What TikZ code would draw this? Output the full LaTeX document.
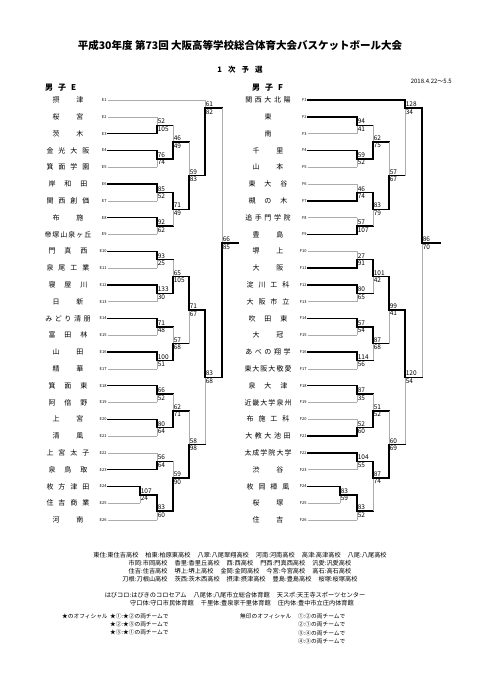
\documentclass[tikz,border=0pt]{standalone}
\usepackage{fontspec}
\setmainfont{Noto Sans CJK JP}
\usetikzlibrary{positioning}

% spread a school name evenly over a fixed width
\newcount\chcnt
\newlength\cellw
\def\countch#1{\ifx#1\relax\else\advance\chcnt by 1 \expandafter\countch\fi}
\def\spreadch#1{\ifx#1\relax\else\makebox[\cellw]{#1}\expandafter\spreadch\fi}
\newcommand\spreadname[1]{\chcnt=0 \expandafter\countch#1\relax
  \setlength\cellw{\dimexpr 48pt/\chcnt\relax}\expandafter\spreadch#1\relax}

% one game: x, next x, top y, bottom y, out y, top score, bottom score, top style, bottom style
\newcount\boutno
\newcommand\bout[9]{%
  \global\advance\boutno by 1
  \draw[#8] (#1,#3) -- (#1,#5);
  \draw[#9] (#1,#5) -- (#1,#4);
  \draw[win] (#1,#5) -- (#2,#5);
  \node[score,anchor=south west,yshift=0.5pt] (m\the\boutno a) at (#1,#5) {#6};
  \node[score,anchor=north west,yshift=-0.5pt] (m\the\boutno b) at (#1,#5) {#7};
}

\begin{document}
\begin{tikzpicture}[x=1pt,y=-1pt,
  team/.style={inner sep=0pt,font=\fontsize{7}{8}\selectfont},
  seed/.style={inner sep=0.3pt,anchor=east,font=\fontsize{4}{4}\selectfont},
  score/.style={inner sep=0.6pt,font=\fontsize{6.5}{6.7}\selectfont},
  head/.style={inner sep=0pt,font=\bfseries\fontsize{8}{9}\selectfont},
  note/.style={inner sep=0pt,font=\fontsize{6.2}{7}\selectfont},
  offi/.style={inner sep=0pt,anchor=west,font=\fontsize{5.7}{6.5}\selectfont},
  win/.style={line width=1.4pt,line cap=rect,black},
  lose/.style={line width=0.6pt,gray!65}
]
\fill[white] (0,0) rectangle (482,680);
\useasboundingbox (0,0) rectangle (482,680);

\node[font=\bfseries\fontsize{10.5}{12}\selectfont] (title) at (240,45) {平成30年度 第73回 大阪高等学校総合体育大会バスケットボール大会};
\node[head,font=\bfseries\fontsize{7.5}{8}\selectfont] (round) at (240,70) {1\hspace{6pt}次\hspace{6pt}予\hspace{6pt}選};
\node[note,anchor=east,font=\fontsize{6}{6.5}\selectfont] (date) at (452,81) {2018.4.22～5.5};
\node[head,anchor=west] (blockE) at (45,88) {男\hspace{5pt}子\hspace{5pt}E};
\node[head,anchor=west] (blockF) at (252,88) {男\hspace{5pt}子\hspace{5pt}F};

% block E
\foreach \i/\t/\x/\s in {1/摂津/205/lose, 2/桜宮/157/lose, 3/茨木/157/win, 4/金光大阪/157/win,
  5/箕面学園/157/lose, 6/岸和田/157/win, 7/関西創価/157/lose, 8/布施/157/win,
  9/帝塚山泉ヶ丘/157/lose, 10/門真西/157/win, 11/泉尾工業/157/lose, 12/寝屋川/157/win,
  13/日新/157/lose, 14/みどり清朋/157/win, 15/富田林/157/lose, 16/山田/157/win,
  17/精華/157/lose, 18/箕面東/157/win, 19/阿倍野/157/lose, 20/上宮/157/win,
  21/清風/157/lose, 22/上宮太子/157/lose, 23/泉鳥取/157/win, 24/枚方津田/140/win,
  25/住吉商業/140/lose, 26/河南/157/lose}{
  \pgfmathsetmacro\yy{100+(\i-1)*16.8}
  \node[team] (e\i) at (68,\yy) {\spreadname{\t}};
  \node[seed] (le\i) at (107,\yy) {E\i};
  \draw[\s] (le\i.east) ++(1,0) -- (\x,\yy);
}
\bout{157}{173}{116.8}{133.6}{125.2}{52}{105}{lose}{win}
\bout{157}{173}{150.4}{167.2}{158.8}{76}{74}{win}{lose}
\bout{173}{189}{125.2}{158.8}{142}{46}{49}{lose}{win}
\bout{157}{173}{184}{200.8}{192.4}{85}{52}{win}{lose}
\bout{157}{173}{217.6}{234.4}{226}{92}{62}{win}{lose}
\bout{173}{189}{192.4}{226}{209.2}{71}{49}{win}{lose}
\bout{189}{205}{142}{209.2}{175.6}{59}{83}{lose}{win}
\bout{205}{222}{100}{175.6}{108}{61}{82}{lose}{win}
\bout{157}{173}{251.2}{268}{259.6}{93}{25}{win}{lose}
\bout{157}{173}{284.8}{301.6}{293.2}{133}{30}{win}{lose}
\bout{173}{189}{259.6}{293.2}{276.4}{65}{105}{lose}{win}
\bout{157}{173}{318.4}{335.2}{326.8}{71}{48}{win}{lose}
\bout{157}{173}{352}{368.8}{360.4}{100}{51}{win}{lose}
\bout{173}{189}{326.8}{360.4}{343.6}{57}{68}{lose}{win}
\bout{189}{205}{276.4}{343.6}{310}{71}{67}{win}{lose}
\bout{157}{173}{385.6}{402.4}{394}{66}{52}{win}{lose}
\bout{157}{173}{419.2}{436}{427.6}{80}{64}{win}{lose}
\bout{173}{189}{394}{427.6}{410.8}{62}{71}{lose}{win}
\bout{157}{173}{452.8}{469.6}{461.2}{56}{64}{lose}{win}
\bout{140}{157}{486.4}{503.2}{494.8}{107}{24}{win}{lose}
\bout{157}{173}{494.8}{520}{511}{83}{60}{win}{lose}
\bout{173}{189}{461.2}{511}{478}{59}{90}{lose}{win}
\bout{189}{205}{410.8}{478}{444.4}{58}{98}{lose}{win}
\bout{205}{222}{310}{444.4}{377.2}{83}{68}{win}{lose}
\bout{222}{238}{108}{377.2}{243}{66}{85}{lose}{win}

% block F
\foreach \i/\t/\x/\s in {1/関西大北陽/405/win, 2/東/357/win, 3/南/357/lose, 4/千里/357/win,
  5/山本/357/lose, 6/東大谷/357/lose, 7/槻の木/357/win, 8/追手門学院/357/lose,
  9/豊島/357/win, 10/堺上/357/lose, 11/大阪/357/win, 12/淀川工科/357/win,
  13/大阪市立/357/lose, 14/吹田東/357/win, 15/大冠/357/lose, 16/あべの翔学/357/win,
  17/東大阪大敬愛/357/lose, 18/泉大津/357/win, 19/近畿大学泉州/357/lose, 20/布施工科/357/lose,
  21/大教大池田/357/win, 22/太成学院大学/357/win, 23/渋谷/357/lose, 24/枚岡樟風/340/win,
  25/桜塚/340/lose, 26/住吉/357/lose}{
  \pgfmathsetmacro\yy{100+(\i-1)*16.8}
  \node[team] (f\i) at (268,\yy) {\spreadname{\t}};
  \node[seed] (lf\i) at (307,\yy) {F\i};
  \draw[\s] (lf\i.east) ++(1,0) -- (\x,\yy);
}
\bout{357}{373}{116.8}{133.6}{125.2}{94}{41}{win}{lose}
\bout{357}{373}{150.4}{167.2}{158.8}{59}{52}{win}{lose}
\bout{373}{389}{125.2}{158.8}{142}{62}{75}{lose}{win}
\bout{357}{373}{184}{200.8}{192.4}{46}{74}{lose}{win}
\bout{357}{373}{217.6}{234.4}{226}{57}{107}{lose}{win}
\bout{373}{389}{192.4}{226}{209.2}{83}{79}{win}{lose}
\bout{389}{405}{142}{209.2}{175.6}{57}{67}{lose}{win}
\bout{405}{422}{100}{175.6}{108}{128}{34}{win}{lose}
\bout{357}{373}{251.2}{268}{259.6}{27}{91}{lose}{win}
\bout{357}{373}{284.8}{301.6}{293.2}{80}{65}{win}{lose}
\bout{373}{389}{259.6}{293.2}{276.4}{101}{42}{win}{lose}
\bout{357}{373}{318.4}{335.2}{326.8}{57}{54}{win}{lose}
\bout{357}{373}{352}{368.8}{360.4}{114}{56}{win}{lose}
\bout{373}{389}{326.8}{360.4}{343.6}{87}{68}{win}{lose}
\bout{389}{405}{276.4}{343.6}{310}{99}{41}{win}{lose}
\bout{357}{373}{385.6}{402.4}{394}{87}{35}{win}{lose}
\bout{357}{373}{419.2}{436}{427.6}{52}{60}{lose}{win}
\bout{373}{389}{394}{427.6}{410.8}{51}{52}{lose}{win}
\bout{357}{373}{452.8}{469.6}{461.2}{104}{55}{win}{lose}
\bout{340}{357}{486.4}{503.2}{494.8}{83}{59}{win}{lose}
\bout{357}{373}{494.8}{520}{511}{83}{52}{win}{lose}
\bout{373}{389}{461.2}{511}{478}{87}{74}{win}{lose}
\bout{389}{405}{410.8}{478}{444.4}{60}{69}{lose}{win}
\bout{405}{422}{310}{444.4}{377.2}{120}{54}{win}{lose}
\bout{422}{440}{108}{377.2}{243}{86}{70}{win}{lose}

% abbreviations
\node[note] (abbr1) at (240,555) {東住:東住吉高校\hspace{7pt}柏東:柏原東高校\hspace{7pt}八翠:八尾翠翔高校\hspace{7pt}河南:河南高校\hspace{7pt}高津:高津高校\hspace{7pt}八尾:八尾高校};
\node[note] (abbr2) at (240,563) {市岡:市岡高校\hspace{7pt}香里:香里丘高校\hspace{7pt}西:西高校\hspace{7pt}門西:門真西高校\hspace{7pt}汎愛:汎愛高校};
\node[note] (abbr3) at (240,571) {住吉:住吉高校\hspace{7pt}堺上:堺上高校\hspace{7pt}金岡:金岡高校\hspace{7pt}今宮:今宮高校\hspace{7pt}高石:高石高校};
\node[note] (abbr4) at (240,579) {刀根:刀根山高校\hspace{7pt}茨西:茨木西高校\hspace{7pt}摂津:摂津高校\hspace{7pt}豊島:豊島高校\hspace{7pt}桜塚:桜塚高校};
\node[note] (hall1) at (235,595) {はびコロ:はびきのコロセアム\hspace{7pt}八尾体:八尾市立総合体育館\hspace{7pt}天スポ:天王寺スポーツセンター};
\node[note] (hall2) at (242,603) {守口体:守口市民体育館\hspace{7pt}千里体:豊泉家千里体育館\hspace{7pt}庄内体:豊中市立庄内体育館};

% officials
\node[offi] (offA) at (62,616) {★のオフィシャル};
\node[offi] (offA1) at (110,616) {★①:★②の両チームで};
\node[offi] (offA2) at (110,624) {★②:★③の両チームで};
\node[offi] (offA3) at (110,632) {★③:★①の両チームで};
\node[offi] (offB) at (240,616) {無印のオフィシャル};
\node[offi] (offB1) at (298,616) {①:②の両チームで};
\node[offi] (offB2) at (298,624.5) {②:①の両チームで};
\node[offi] (offB3) at (298,633) {③:④の両チームで};
\node[offi] (offB4) at (298,641.5) {④:③の両チームで};
\end{tikzpicture}
\end{document}
